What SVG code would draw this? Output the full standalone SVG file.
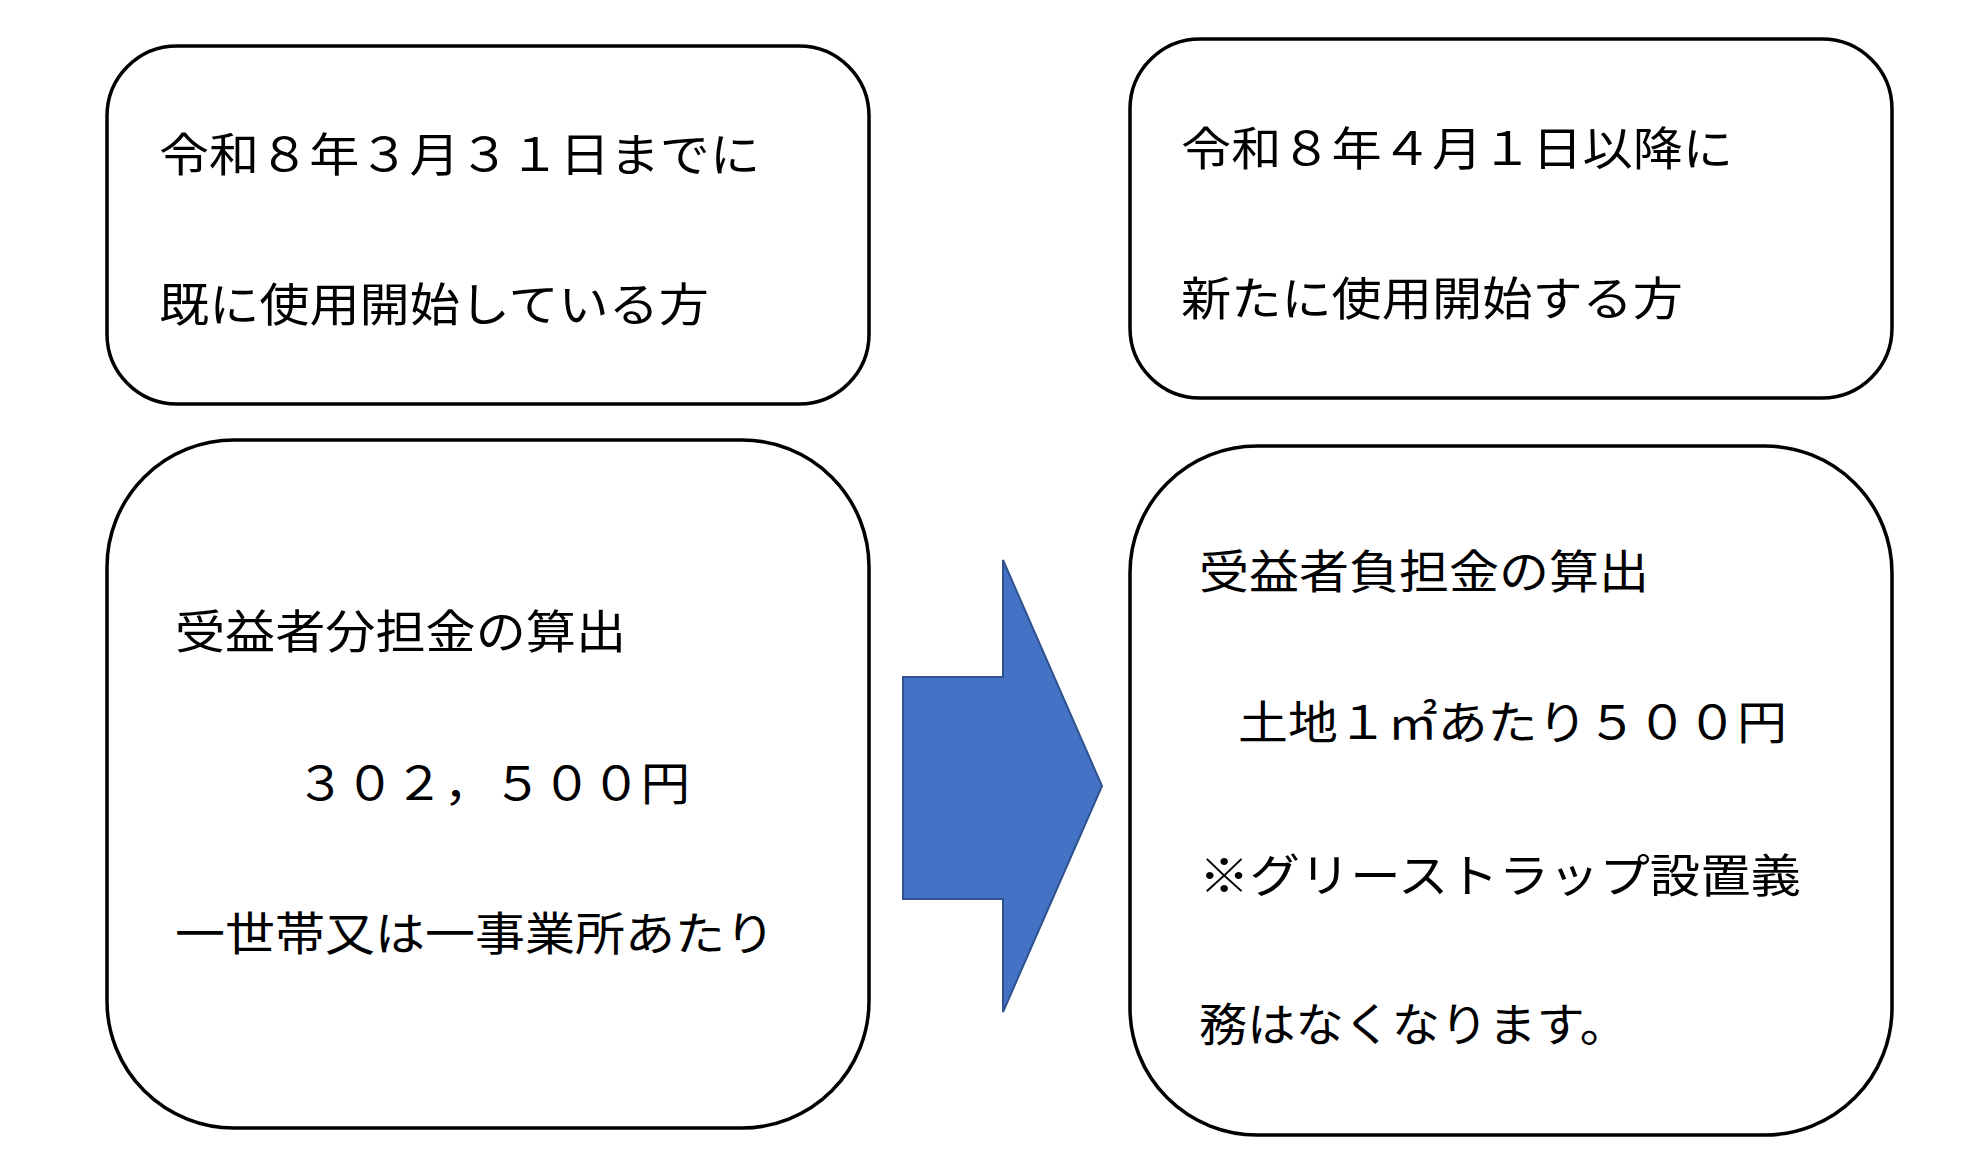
<svg xmlns="http://www.w3.org/2000/svg" width="1976" height="1153" viewBox="0 0 1976 1153">
<style>
.b{fill:#fff;stroke:#000;stroke-width:3.5}
.t{font-family:"Noto Sans CJK JP",sans-serif;font-size:46px;fill:#000}
</style>
<rect width="1976" height="1153" fill="#fff"/>
<g id="box1"><rect class="b" x="107" y="46" width="762" height="358" rx="70"/>
<text class="t" x="159" y="171" textLength="601" lengthAdjust="spacingAndGlyphs">令和８年３月３１日までに</text>
<text class="t" x="159" y="321" textLength="550" lengthAdjust="spacingAndGlyphs">既に使用開始している方</text></g>
<g id="box2"><rect class="b" x="1130" y="39" width="762" height="359" rx="70"/>
<text class="t" x="1181" y="165" textLength="552" lengthAdjust="spacingAndGlyphs">令和８年４月１日以降に</text>
<text class="t" x="1181" y="315" textLength="502" lengthAdjust="spacingAndGlyphs">新たに使用開始する方</text></g>
<g id="box3"><rect class="b" x="107" y="440" width="762" height="688" rx="127"/>
<text class="t" x="175" y="648" textLength="451" lengthAdjust="spacingAndGlyphs">受益者分担金の算出</text>
<text class="t" x="296" y="800" textLength="394" lengthAdjust="spacingAndGlyphs">３０２，５００円</text>
<text class="t" x="175" y="950" textLength="600" lengthAdjust="spacingAndGlyphs">一世帯又は一事業所あたり</text></g>
<g id="box4"><rect class="b" x="1130" y="446" width="762" height="689" rx="127"/>
<text class="t" x="1199" y="588" textLength="450" lengthAdjust="spacingAndGlyphs">受益者負担金の算出</text>
<text class="t" x="1238" y="739" textLength="549" lengthAdjust="spacingAndGlyphs">土地１㎡あたり５００円</text>
<text class="t" x="1199" y="892" textLength="602" lengthAdjust="spacingAndGlyphs">※グリーストラップ設置義</text>
<text class="t" x="1199" y="1041" textLength="429" lengthAdjust="spacingAndGlyphs">務はなくなります。</text></g>
<g id="connectors"><polygon points="903,677 1003,677 1003,560 1102,786 1003,1012 1003,899 903,899" fill="#4472C4" stroke="#2F528F" stroke-width="2"/></g>
</svg>
